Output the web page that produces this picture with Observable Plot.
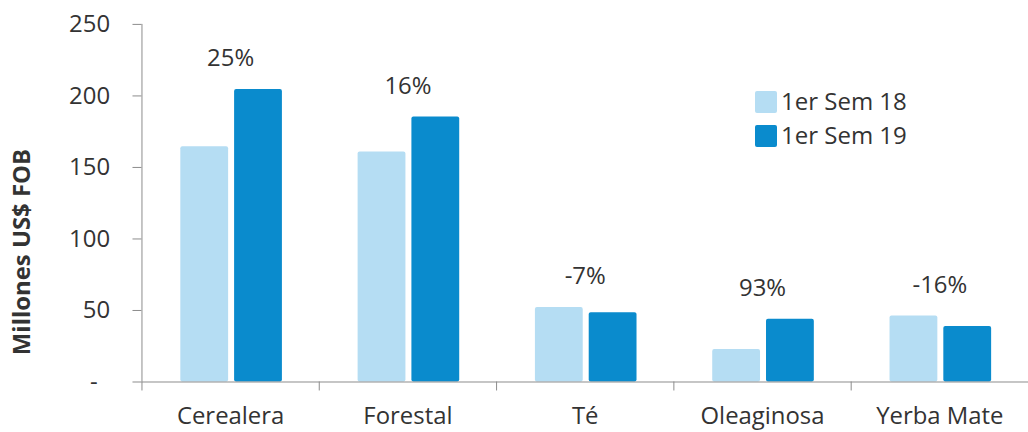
<!DOCTYPE html>
<html><head><meta charset="utf-8">
<script src="https://cdn.jsdelivr.net/npm/d3@7"></script>
<script src="https://cdn.jsdelivr.net/npm/@observablehq/plot@0.6"></script>
<style>
html,body{margin:0;padding:0;overflow:hidden;background:#fff;width:1028px;height:432px}
#wrap{position:relative;width:1028px;height:432px;font-family:"Open Sans",sans-serif}
.legend{position:absolute;left:755px;top:84px;font-size:24px;color:#333;line-height:34px;font-family:"Open Sans",sans-serif}
.sw{display:inline-block;width:22px;height:22px;border-radius:2px;vertical-align:-3px;margin-right:4px}
</style></head><body><div id="wrap"></div>
<script>
const categories = ["Cerealera", "Forestal", "Té", "Oleaginosa", "Yerba Mate"];
const series = ["1er Sem 18", "1er Sem 19"];
const sem18 = [164.5, 160.8, 52, 22.7, 46.2];
const sem19 = [204.5, 185.2, 48.5, 43.8, 38.8];
const changes = ["25%", "16%", "-7%", "93%", "-16%"];
const yTicks = [0, 50, 100, 150, 200, 250];
const colors = ["#b5ddf3", "#0a8bcd"];
const yTitle = "Millones US$ FOB";

const rows = categories.map((c, i) => ({
  category: c, s18: sem18[i], s19: sem19[i], change: changes[i],
  top: Math.max(sem18[i], sem19[i])
}));

const chart = Plot.plot({
  width: 1032, height: 432,
  marginLeft: 142, marginRight: 0, marginTop: 24, marginBottom: 49,
  style: {fontFamily: '"Open Sans", sans-serif', fontSize: "24px", color: "#333", background: "transparent", overflow: "visible"},
  x: {domain: categories, padding: 0, label: null},
  y: {domain: [0, 250], label: null},
  marks: [
    Plot.barY(rows, {x: "category", y: "s18", fill: colors[0], insetLeft: 39, insetRight: 91, rx: 2}),
    Plot.barY(rows, {x: "category", y: "s19", fill: colors[1], insetLeft: 93, insetRight: 37, rx: 2}),
    Plot.axisX({tickSize: 0, tickPadding: 25, fill: "#333", label: null}),
    Plot.axisY({ticks: yTicks, tickSize: 9, tickPadding: 23, stroke: "#8c8c8c", fill: "#333", label: null,
      tickFormat: d => d === 0 ? "-\u00a0\u00a0" : String(d)}),
    Plot.ruleY([0], {stroke: "#8c8c8c"}),
    Plot.ruleX(categories, {x: d => d, dx: -89, y1: 0, y2: 0, insetBottom: -9, stroke: "#8c8c8c"}),
    Plot.ruleX([categories[0]], {x: d => d, dx: -89, y1: 0, y2: 250, stroke: "#8c8c8c"}),
    Plot.text(rows, {x: "category", y: "top", text: "change", dy: -31, fill: "#333"}),
    Plot.text([yTitle], {frameAnchor: "left", textAnchor: "middle", text: d => d, rotate: -90, dx: -120, dy: 49, fontWeight: "bold", fill: "#333"})
  ]
});
const wrap = document.getElementById("wrap");
wrap.appendChild(chart);
const leg = document.createElement("div");
leg.className = "legend";
leg.innerHTML = series.map((s, i) => `<div><span class="sw" style="background:${colors[i]}"></span>${s}</div>`).join("");
wrap.appendChild(leg);
</script></body></html>
